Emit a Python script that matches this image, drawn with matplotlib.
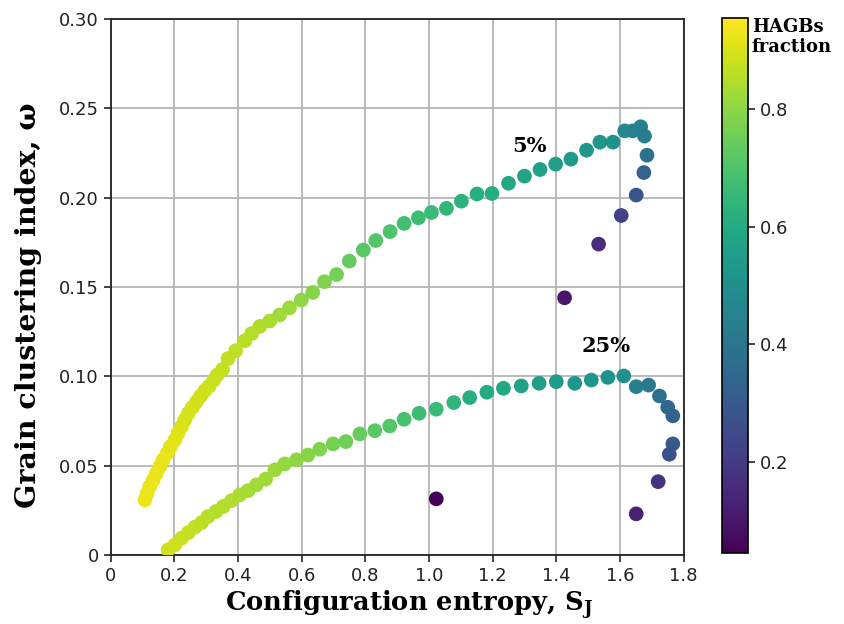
import matplotlib
matplotlib.use("Agg")
import numpy as np
import matplotlib.pyplot as plt
from matplotlib.ticker import FuncFormatter, MultipleLocator

plt.rcParams['mathtext.fontset'] = 'custom'
plt.rcParams['mathtext.bf'] = 'DejaVu Serif:bold'
plt.rcParams['mathtext.rm'] = 'DejaVu Serif'
SERIF = "DejaVu Serif"

# 5 % series: configuration entropy, clustering index, HAGB fraction
s5_x = [0.108, 0.115, 0.123, 0.134, 0.144, 0.155, 0.165, 0.178, 0.188, 0.202, 0.212,
        0.223, 0.233, 0.244, 0.257, 0.270, 0.283, 0.296, 0.310, 0.324, 0.335, 0.352,
        0.369, 0.393, 0.422, 0.443, 0.469, 0.500, 0.531, 0.562, 0.599, 0.635, 0.672,
        0.710, 0.750, 0.794, 0.833, 0.878, 0.922, 0.967, 1.008, 1.055, 1.102, 1.151,
        1.198, 1.250, 1.300, 1.349, 1.398, 1.446, 1.495, 1.537, 1.578, 1.615, 1.640,
        1.665, 1.677, 1.685, 1.675, 1.651, 1.604, 1.533, 1.426]
s5_y = [0.031, 0.0347, 0.0384, 0.0422, 0.0459, 0.0497, 0.0534, 0.0571, 0.0608, 0.0645,
        0.0683, 0.0720, 0.0757, 0.0794, 0.0828, 0.0859, 0.0891, 0.0921, 0.0947, 0.0980,
        0.1008, 0.104, 0.110, 0.1144, 0.120, 0.124, 0.128, 0.131, 0.1344, 0.1384, 0.1427,
        0.147, 0.153, 0.157, 0.1645, 0.1707, 0.176, 0.181, 0.1856, 0.1887, 0.1917, 0.194,
        0.198, 0.202, 0.2023, 0.208, 0.212, 0.2157, 0.2187, 0.2215, 0.2265, 0.231, 0.231,
        0.2373, 0.2373, 0.2396, 0.2344, 0.2237, 0.214, 0.2014, 0.190, 0.174, 0.144]
s5_c = [0.93, 0.93, 0.93, 0.93, 0.925, 0.925, 0.92, 0.92, 0.915, 0.915, 0.91,
        0.91, 0.905, 0.90, 0.90, 0.895, 0.89, 0.89, 0.885, 0.88, 0.88, 0.875,
        0.87, 0.865, 0.86, 0.855, 0.85, 0.84, 0.83, 0.82, 0.80, 0.79, 0.78,
        0.76, 0.74, 0.72, 0.71, 0.70, 0.68, 0.67, 0.66, 0.645, 0.63, 0.62,
        0.61, 0.59, 0.58, 0.565, 0.555, 0.545, 0.53, 0.52, 0.51, 0.47, 0.45,
        0.44, 0.42, 0.38, 0.33, 0.29, 0.22, 0.16, 0.10]

# 25 % series
s25_x = [0.181, 0.202, 0.223, 0.244, 0.265, 0.286, 0.306, 0.331, 0.354, 0.380, 0.406,
         0.432, 0.458, 0.487, 0.516, 0.547, 0.584, 0.620, 0.657, 0.699, 0.739, 0.783,
         0.830, 0.877, 0.922, 0.969, 1.023, 1.078, 1.128, 1.182, 1.234, 1.290, 1.346,
         1.400, 1.458, 1.510, 1.562, 1.612, 1.651, 1.690, 1.724, 1.750, 1.766, 1.766,
         1.755, 1.720, 1.651, 1.023]
s25_y = [0.0031, 0.0059, 0.0096, 0.0127, 0.0158, 0.0183, 0.0217, 0.0245, 0.0273, 0.0306,
         0.0338, 0.0362, 0.0394, 0.0426, 0.0478, 0.0511, 0.0534, 0.0561, 0.0593, 0.0623,
         0.0636, 0.0679, 0.0697, 0.0723, 0.0761, 0.0794, 0.0817, 0.0854, 0.0882, 0.0912,
         0.0934, 0.0947, 0.0962, 0.0971, 0.0962, 0.098, 0.0995, 0.1003, 0.0943, 0.0952,
         0.0891, 0.0828, 0.078, 0.0623, 0.0565, 0.0412, 0.0232, 0.0316]
s25_c = [0.89, 0.885, 0.88, 0.875, 0.87, 0.865, 0.86, 0.855, 0.85, 0.845, 0.84,
         0.835, 0.83, 0.825, 0.82, 0.81, 0.80, 0.79, 0.78, 0.765, 0.755, 0.74,
         0.72, 0.71, 0.69, 0.67, 0.66, 0.64, 0.62, 0.60, 0.59, 0.57, 0.555,
         0.54, 0.53, 0.52, 0.51, 0.50, 0.43, 0.41, 0.38, 0.35, 0.33, 0.30,
         0.27, 0.18, 0.13, 0.05]

labels = [("5%", 1.317, 0.229), ("25%", 1.555, 0.117)]

fig = plt.figure(figsize=(8.44, 6.24), dpi=100)
ax = fig.add_axes([0.131, 0.110, 0.679, 0.860])
cax = fig.add_axes([0.8555, 0.1138, 0.0308, 0.857])

vmin, vmax = 0.045, 0.955
ax.scatter(s5_x, s5_y, c=s5_c, cmap="viridis", vmin=vmin, vmax=vmax, s=112,
           edgecolors="none", zorder=3)
sc = ax.scatter(s25_x, s25_y, c=s25_c, cmap="viridis", vmin=vmin, vmax=vmax, s=112,
                edgecolors="none", zorder=3)

for txt, x, y in labels:
    ax.text(x, y, txt, ha="center", va="center", fontsize=15, fontweight="bold",
            family=SERIF, zorder=4)

ax.set_xlim(0, 1.8)
ax.set_ylim(0, 0.30)
ax.xaxis.set_major_locator(MultipleLocator(0.2))
ax.yaxis.set_major_locator(MultipleLocator(0.05))
ax.xaxis.set_major_formatter(FuncFormatter(lambda v, p: "0" if abs(v) < 1e-9 else f"{v:.1f}"))
ax.yaxis.set_major_formatter(FuncFormatter(lambda v, p: "0" if abs(v) < 1e-9 else f"{v:.2f}"))
ax.tick_params(labelsize=13, length=5, width=1.2, colors="#222")
ax.grid(True, color="#b5b5b5", lw=1.3, zorder=0)
ax.set_axisbelow(True)
for sp in ax.spines.values():
    sp.set_linewidth(1.3)
    sp.set_color("#222")

ax.set_xlabel(r"Configuration entropy, $\mathbf{S_J}$", fontsize=18.5, fontweight="bold",
              family=SERIF)
ax.xaxis.set_label_coords(0.52, -0.062)
ax.set_ylabel("Grain clustering index, ω", fontsize=20.5, fontweight="bold",
              family=SERIF)
ax.yaxis.set_label_coords(-0.12, 0.466)

cb = fig.colorbar(sc, cax=cax)
cb.set_ticks([0.2, 0.4, 0.6, 0.8])
cb.ax.tick_params(labelsize=13, length=5, width=1.2, colors="#222")
cb.outline.set_linewidth(1.2)
cax.text(1.15, 1.0, "HAGBs\nfraction", transform=cax.transAxes, ha="left", va="top",
         fontsize=13, fontweight="bold", family=SERIF, linespacing=1.15)

fig.savefig("out.png", dpi=100)
